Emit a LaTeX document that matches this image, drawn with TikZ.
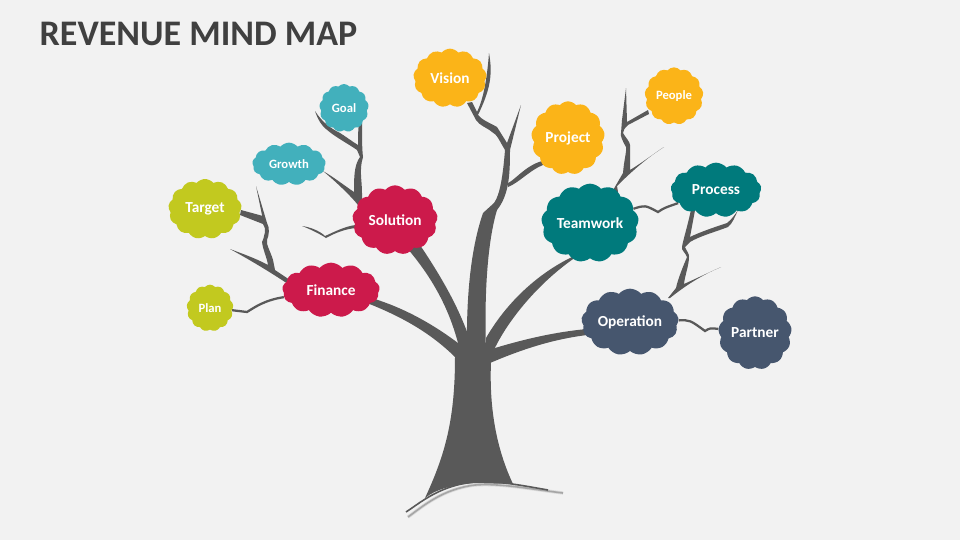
\documentclass[tikz,border=0pt]{standalone}
\usepackage{fontspec}
\setmainfont{Carlito}
\usetikzlibrary{shapes.symbols,backgrounds}
\definecolor{bgGrey}{HTML}{F2F2F2}
\definecolor{barkGrey}{HTML}{595959}
\definecolor{titleGrey}{HTML}{404040}
\definecolor{limeLeaf}{HTML}{C2C91F}
\definecolor{aquaLeaf}{HTML}{42B0BC}
\definecolor{redLeaf}{HTML}{CC1A4B}
\definecolor{amberLeaf}{HTML}{FBB418}
\definecolor{tealLeaf}{HTML}{007A7C}
\definecolor{slateLeaf}{HTML}{46566E}

\begin{document}
\begin{tikzpicture}[x=0.75pt,y=-0.75pt]
    \tikzstyle{idea}=[cloud, cloud puffs=13, cloud puff arc=100, cloud ignores aspect, text=white, inner sep=0pt, font=\fontsize{11.5}{12}\selectfont\bfseries];
    \tikzstyle{small idea}=[idea, font=\fontsize{9.5}{10}\selectfont\bfseries];
    \tikzstyle{bark}=[fill=barkGrey, draw=none];
    \tikzstyle{link}=[draw=barkGrey, line width=1.7pt];

    \useasboundingbox (0,0) rectangle (960,540);

    \node[anchor=west, text=titleGrey, font=\fontsize{27}{30}\selectfont\bfseries] (title) at (35,34) {REVENUE MIND MAP};

    % Draw the left clouds
    \node[idea, fill=limeLeaf, minimum width=55pt, minimum height=45pt] (target) at (205,209) {Target};
    \node[small idea, fill=limeLeaf, minimum width=35pt, minimum height=35pt] (plan) at (210,308) {Plan};
    \node[idea, fill=redLeaf, minimum width=73pt, minimum height=41pt] (finance) at (331,290) {Finance};
    \node[idea, fill=redLeaf, minimum width=64pt, minimum height=52pt] (solution) at (395,220) {Solution};
    \node[small idea, fill=aquaLeaf, minimum width=55pt, minimum height=32pt] (growth) at (289,164) {Growth};
    \node[small idea, fill=aquaLeaf, minimum width=37pt, minimum height=36pt] (goal) at (344,108) {Goal};

    % Draw the right clouds
    \node[idea, fill=amberLeaf, minimum width=55pt, minimum height=44pt] (vision) at (450,78) {Vision};
    \node[idea, fill=amberLeaf, minimum width=55pt, minimum height=55pt] (project) at (568,138) {Project};
    \node[small idea, fill=amberLeaf, minimum width=44pt, minimum height=43pt] (people) at (674,96) {People};
    \node[idea, fill=tealLeaf, minimum width=73pt, minimum height=59pt] (teamwork) at (590,223) {Teamwork};
    \node[idea, fill=tealLeaf, minimum width=68pt, minimum height=41pt] (process) at (716,190) {Process};
    \node[idea, fill=slateLeaf, minimum width=73pt, minimum height=50pt] (operation) at (630,322) {Operation};
    \node[idea, fill=slateLeaf, minimum width=55pt, minimum height=55pt] (partner) at (755,333) {Partner};

    \begin{scope}[on background layer]
    \fill[bgGrey] (0,0) rectangle (960,540);

    % Draw the shadow of the ground
    \draw[black!15, line width=2.4pt] (408,517) .. controls (422,507) and (442,489) .. (475,485) .. controls (500,483) and (530,489) .. (563,493);
    \draw[black!35, line width=1.2pt] (408,517) .. controls (422,507) and (442,489) .. (475,485) .. controls (500,483) and (530,489) .. (563,493);

    % Draw the trunk and the big branches
    \path[bark] (425,498) .. controls (445,455) and (455,420) .. (455,357) -- (456,350) -- (490,350) -- (491,362) .. controls (489,410) and (497,450) .. (513,484) -- (475,483) .. controls (450,485) and (435,490) .. cycle;
    \path[bark] (368,297) .. controls (400,306) and (430,322) .. (458,343) -- (458,352) -- (456,358) .. controls (430,332) and (400,316) .. (367,303) -- cycle;
    \path[bark] (407,248) .. controls (430,275) and (448,305) .. (458,343) -- (458,352) -- (470,352) -- (470,340) .. controls (458,305) and (440,275) .. (420,245) -- cycle;
    \path[bark] (572,257) .. controls (535,275) and (505,305) .. (486,338) -- (486,352) -- (493,352) .. controls (505,325) and (535,285) .. (576,257) -- cycle;
    \path[bark] (495,348) .. controls (525,339) and (555,332) .. (587,329) -- (587,335) .. controls (555,339) and (525,348) .. (490,363) -- (488,352) -- cycle;

    % Draw the ground line
    \draw[barkGrey, line width=1.2pt] (406,512) .. controls (420,503) and (440,485) .. (475,482) .. controls (495,480) and (525,486) .. (548,490);

    % Draw the middle stem up to the vision cloud
    \path[bark] (467,352) .. controls (466,290) and (472,245) .. (483,213) -- (494,203) .. controls (500,195) and (503,175) .. (505,150) .. controls (500,142) and (497,134) .. (492,132) .. controls (486,127) and (480,126) .. (476,120) -- (467,103) -- (472,102) -- (477,112) .. controls (483,100) and (487,80) .. (489,53) .. controls (493,75) and (490,90) .. (478,115) .. controls (482,120) and (490,123) .. (497,127) -- (507,143) -- (521,105) -- (510,150) .. controls (510,175) and (509,195) .. (497,210) .. controls (488,240) and (484,290) .. (486,352) -- cycle;
    \path[bark] (508,183) .. controls (515,180) and (525,166) .. (542,161) -- (543,165) .. controls (530,170) and (520,182) .. (508,187) -- cycle;

    % Draw the twigs round the solution cloud
    \path[bark] (362,205) -- (362,193) .. controls (362,180) and (359,170) .. (363,157) .. controls (362,150) and (362,135) .. (362,123) -- (359,123) .. controls (358,130) and (358,138) .. (358,145) .. controls (350,140) and (345,136) .. (340,133) .. controls (330,128) and (322,122) .. (315,111) .. controls (318,120) and (322,126) .. (326,129) .. controls (335,137) and (347,143) .. (357,150) -- (360,157) .. controls (354,165) and (354,178) .. (354,192) .. controls (345,186) and (335,178) .. (323,171) .. controls (335,181) and (350,195) .. (358,205) -- cycle;
    \path[bark] (302,226) .. controls (310,227) and (320,231) .. (325,236) .. controls (332,233) and (345,226) .. (356,225) -- (356,228) .. controls (345,229) and (335,233) .. (326,238) .. controls (320,234) and (310,229) .. (302,226) -- cycle;

    % Draw the twigs round the finance cloud
    \path[bark] (290,280) -- (275,270) -- (273,260) .. controls (270,250) and (266,245) .. (267,240) .. controls (269,235) and (270,228) .. (267,223) -- (256,186) -- (262,215) -- (263,216) -- (241,210) -- (240,215) -- (263,224) .. controls (267,228) and (264,238) .. (262,242) .. controls (263,250) and (267,258) .. (268,265) .. controls (255,258) and (243,254) .. (230,249) .. controls (250,260) and (270,272) .. (288,284) -- cycle;
    \draw[link] (plan) .. controls (240,311) .. (247,312) .. controls (255,307) and (265,300) .. (finance);

    % Draw the twigs round the teamwork cloud
    \path[bark] (612,192) -- (623,173) .. controls (624,160) and (627,150) .. (626,147) .. controls (622,140) and (620,135) .. (621,133) -- (622,120) -- (626,88) -- (627,122) -- (648,110) -- (649,114) -- (628,125) .. controls (625,128) and (623,130) .. (623,133) .. controls (626,138) and (630,142) .. (630,145) -- (630,170) .. controls (640,164) and (652,155) .. (664,147) .. controls (650,156) and (635,168) .. (617,186) -- (618,192) -- cycle;
    \draw[link] (teamwork) .. controls (645,205) .. (658,212) .. controls (664,208) .. (process);

    % Draw the twigs round the operation cloud
    \path[bark] (668,298) -- (676,288) .. controls (678,278) and (685,262) .. (687,257) .. controls (685,252) and (681,250) .. (682,247) .. controls (683,240) and (688,225) .. (692,205) -- (696,205) -- (690,237) .. controls (700,232) and (715,227) .. (727,223) .. controls (731,220) and (735,215) .. (738,210) .. controls (735,217) and (732,224) .. (728,227) .. controls (715,232) and (700,236) .. (690,242) -- (685,247) .. controls (686,250) and (690,255) .. (689,257) .. controls (689,265) and (685,275) .. (684,284) .. controls (695,279) and (710,272) .. (721,267) .. controls (705,274) and (690,282) .. (670,298) -- cycle;
    \draw[link] (operation) .. controls (690,320) .. (705,331) .. controls (710,328) .. (partner);
    \end{scope}
\end{tikzpicture}
\end{document}
